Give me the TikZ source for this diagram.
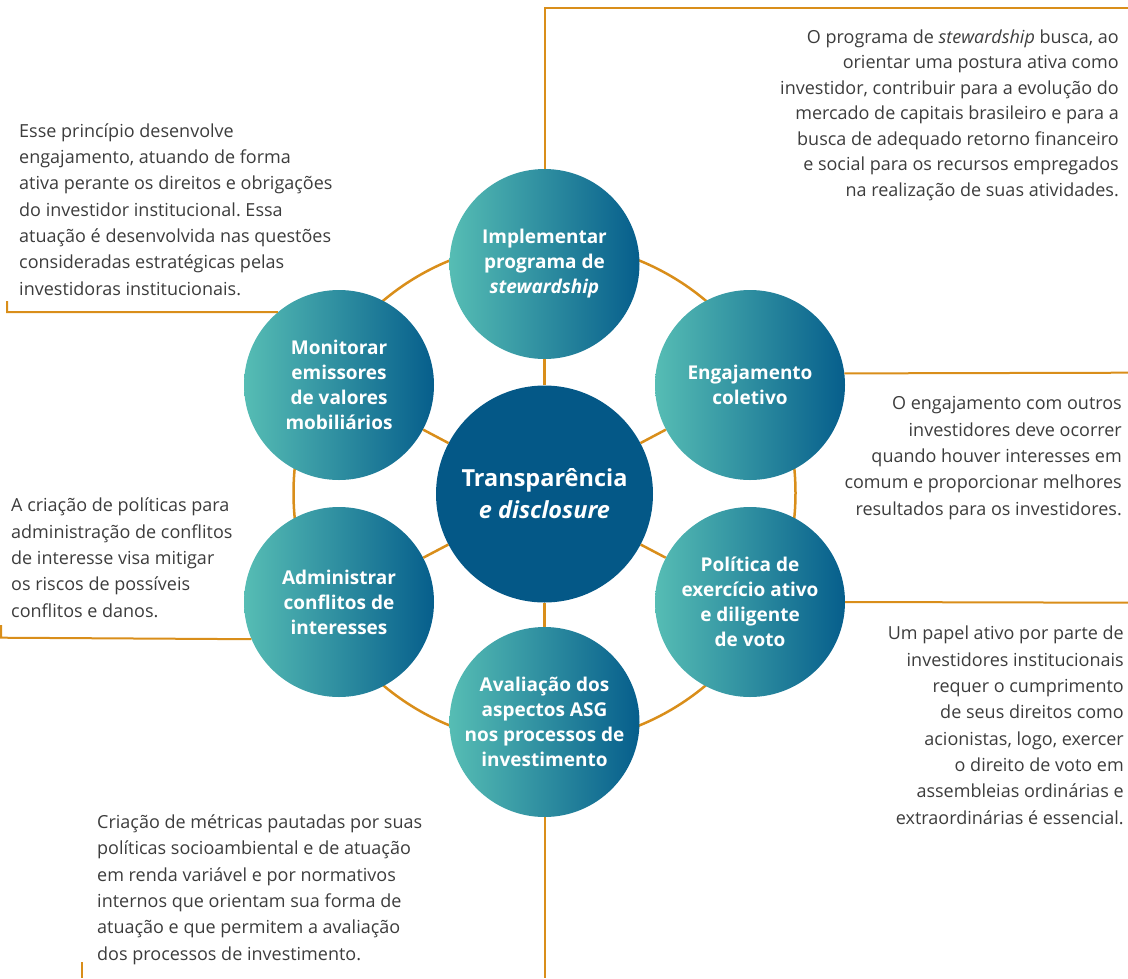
\documentclass[tikz,border=0pt]{standalone}
\usepackage{fontspec}
\setmainfont{Open Sans}
\frenchspacing
\definecolor{ora}{RGB}{217,142,26}
\definecolor{teal1}{RGB}{86,189,180}
\definecolor{blue1}{RGB}{6,94,140}
\definecolor{cblue}{RGB}{4,88,135}
\definecolor{txt}{RGB}{60,60,60}
\begin{document}
\begin{tikzpicture}[x=1pt,y=-1pt,
  bubble/.style={circle,minimum size=190pt,inner sep=0pt,left color=teal1,right color=blue1,
    text=white,align=center,font=\bfseries\fontsize{19}{25}\selectfont},
  hub/.style={circle,minimum size=217pt,inner sep=0pt,fill=cblue,text=white,align=center,
    font=\bfseries\fontsize{23.5}{32}\selectfont},
  lead/.style={draw=ora,line width=2pt},
  note/.style={inner sep=0pt,text=txt,font=\fontsize{18}{26.3}\selectfont}]
\useasboundingbox (0,0) rectangle (1128,978);
% ring
\draw[ora,line width=2.5pt] (544.5,493) circle (251pt);
% nodes
\node[hub] (c) at (544.5,494) {Transparência\\\textit{e disclosure}};
\node[bubble] (top) at (544.5,264) {Implementar\\programa de\\\textit{stewardship}};
\node[bubble] (eng) at (750,385) {Engajamento\\coletivo};
\node[bubble] (pol) at (750,602) {Política de\\exercício ativo\\e diligente\\de voto};
\node[bubble] (ava) at (544.5,722) {Avaliação dos\\aspectos ASG\\nos processos de\\investimento};
\node[bubble] (adm) at (339,602) {Administrar\\conflitos de\\interesses};
\node[bubble] (mon) at (339,385) {Monitorar\\emissores\\de valores\\mobiliários};
% spokes
\foreach \n in {top,eng,pol,ava,adm,mon} \draw[ora,line width=2.5pt] (c) -- (\n);
% leader coordinates
\coordinate (tr) at (1128,8);
\coordinate (er) at (1128,372.7);
\coordinate (pr) at (1128,602.7);
\coordinate (ab) at (544.5,978);
\coordinate (al) at (1,637.7);
\coordinate (alt) at (1,625);
\coordinate (ml) at (7,312);
\coordinate (mlt) at (7,301);
\coordinate (bl1) at (82,962);
\coordinate (bl2) at (82,978);
\draw[lead] (top.north) |- (tr);
\draw[lead] (eng.7) -- (er);
\draw[lead] (pol.east) -- (pr);
\draw[lead] (ava.south) -- (ab);
\draw[lead] (adm.203) -- (al) -- (alt);
\draw[lead] (mon.130) -- (ml) -- (mlt);
\draw[lead] (bl1) -- (bl2);
% texts (anchor = baseline of last line)
\node[note,anchor=base east,align=right,font=\fontsize{18}{25.5}\selectfont] (t1) at (1119,196) {O programa de \textit{stewardship} busca, ao\\orientar uma postura ativa como\\investidor, contribuir para a evolução do\\mercado de capitais brasileiro e para a\\busca de adequado retorno financeiro\\e social para os recursos empregados\\na realização de suas atividades.};
\node[note,anchor=base west,align=left] (t2) at (19,295) {Esse princípio desenvolve\\engajamento, atuando de forma\\ativa perante os direitos e obrigações\\do investidor institucional. Essa\\atuação é desenvolvida nas questões\\consideradas estratégicas pelas\\investidoras institucionais.};
\node[note,anchor=base east,align=right] (t3) at (1122,515) {O engajamento com outros\\investidores deve ocorrer\\quando houver interesses em\\comum e proporcionar melhores\\resultados para os investidores.};
\node[note,anchor=base west,align=left] (t4) at (11,617) {A criação de políticas para\\administração de conflitos\\de interesse visa mitigar\\os riscos de possíveis\\conflitos e danos.};
\node[note,anchor=base east,align=right] (t5) at (1124,824) {Um papel ativo por parte de\\investidores institucionais\\requer o cumprimento\\de seus direitos como\\acionistas, logo, exercer\\o direito de voto em\\assembleias ordinárias e\\extraordinárias é essencial.};
\node[note,anchor=base west,align=left] (t6) at (97,960) {Criação de métricas pautadas por suas\\políticas socioambiental e de atuação\\em renda variável e por normativos\\internos que orientam sua forma de\\atuação e que permitem a avaliação\\dos processos de investimento.};
\end{tikzpicture}
\end{document}
